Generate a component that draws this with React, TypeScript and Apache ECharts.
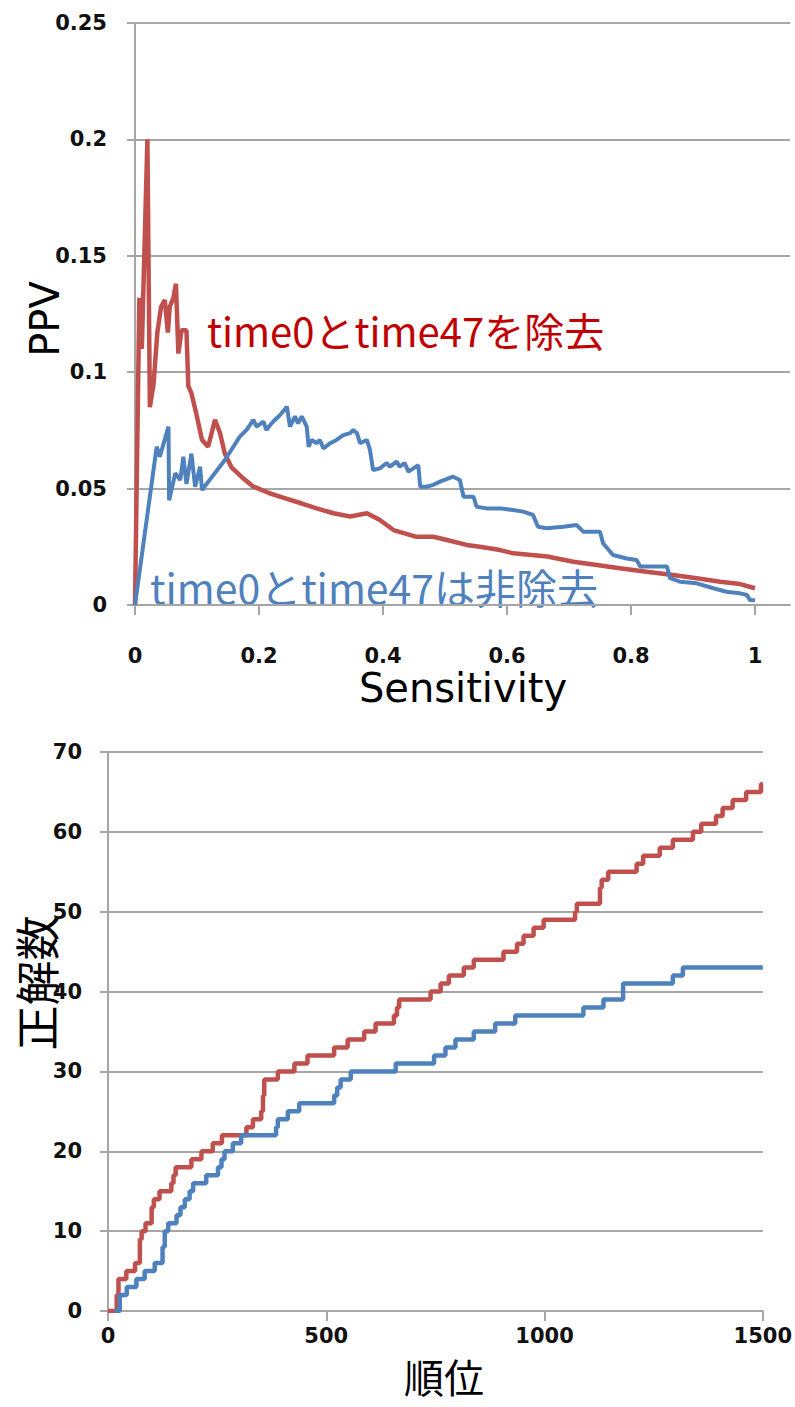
import React, { useEffect, useRef } from "react";
import * as echarts from "echarts";

// PPV vs. Sensitivity (top panel)
const redSens = [0, 0.007, 0.011, 0.020, 0.024, 0.030, 0.036, 0.042, 0.048, 0.053, 0.056, 0.062, 0.066, 0.070, 0.075, 0.083, 0.086, 0.091, 0.099, 0.108, 0.118, 0.129, 0.137, 0.145, 0.156, 0.172, 0.190, 0.217, 0.240, 0.268, 0.293, 0.320, 0.347, 0.374, 0.395, 0.417, 0.454, 0.481, 0.503, 0.535, 0.556, 0.589, 0.610, 0.665, 0.707, 0.745, 0.782, 0.825, 0.868, 0.906, 0.944, 0.976, 1.0];
const redPpv = [0, 0.132, 0.110, 0.200, 0.085, 0.095, 0.117, 0.128, 0.131, 0.117, 0.128, 0.132, 0.138, 0.108, 0.118, 0.118, 0.094, 0.091, 0.082, 0.071, 0.068, 0.0795, 0.074, 0.065, 0.059, 0.055, 0.051, 0.048, 0.046, 0.0437, 0.0415, 0.0394, 0.038, 0.0394, 0.0365, 0.0322, 0.0293, 0.0293, 0.0279, 0.0258, 0.025, 0.0236, 0.0222, 0.0208, 0.0186, 0.0172, 0.0158, 0.0143, 0.0129, 0.0115, 0.010, 0.009, 0.0072];

const blueSens = [0, 0.035, 0.040, 0.054, 0.055, 0.065, 0.073, 0.078, 0.083, 0.091, 0.097, 0.105, 0.108, 0.145, 0.169, 0.180, 0.191, 0.196, 0.207, 0.212, 0.218, 0.223, 0.234, 0.245, 0.250, 0.258, 0.263, 0.269, 0.277, 0.280, 0.285, 0.293, 0.298, 0.304, 0.315, 0.325, 0.336, 0.347, 0.352, 0.358, 0.363, 0.374, 0.379, 0.384, 0.395, 0.406, 0.411, 0.422, 0.427, 0.435, 0.441, 0.449, 0.457, 0.460, 0.470, 0.481, 0.492, 0.513, 0.524, 0.530, 0.546, 0.551, 0.567, 0.589, 0.610, 0.626, 0.642, 0.650, 0.664, 0.691, 0.712, 0.723, 0.750, 0.755, 0.771, 0.793, 0.809, 0.815, 0.858, 0.863, 0.879, 0.906, 0.933, 0.954, 0.976, 0.987, 0.992, 1.0];
const bluePpv = [0, 0.068, 0.0637, 0.0766, 0.045, 0.0566, 0.0537, 0.0637, 0.052, 0.065, 0.0508, 0.0594, 0.0494, 0.0623, 0.0723, 0.0752, 0.0795, 0.0766, 0.0788, 0.0752, 0.0773, 0.0788, 0.0816, 0.0852, 0.0766, 0.081, 0.078, 0.081, 0.0766, 0.068, 0.0709, 0.0695, 0.0709, 0.0673, 0.0695, 0.0709, 0.073, 0.0738, 0.0752, 0.0738, 0.0695, 0.0709, 0.0666, 0.058, 0.0587, 0.061, 0.0594, 0.0616, 0.0594, 0.061, 0.0573, 0.0587, 0.0601, 0.0508, 0.0508, 0.0516, 0.053, 0.0551, 0.0537, 0.0465, 0.0465, 0.0422, 0.0415, 0.0415, 0.0408, 0.0401, 0.0387, 0.0336, 0.033, 0.0336, 0.0344, 0.0315, 0.0315, 0.0265, 0.0215, 0.020, 0.0193, 0.0165, 0.0165, 0.0115, 0.010, 0.0093, 0.0072, 0.0057, 0.005, 0.0043, 0.0021, 0.002];

const sensTicks = [0, 0.2, 0.4, 0.6, 0.8, 1];

// Correct hits vs. rank (bottom panel): rank at which each new count is reached
const redRank = [0, 16, 20, 24, 42, 62, 73, 77, 86, 100, 105, 118, 145, 150, 155, 191, 214, 240, 261, 317, 332, 351, 355, 358, 389, 427, 457, 518, 549, 587, 613, 655, 662, 667, 739, 762, 781, 815, 838, 906, 937, 952, 975, 998, 1070, 1074, 1127, 1131, 1146, 1211, 1226, 1264, 1294, 1340, 1359, 1393, 1408, 1431, 1462, 1496, 1500];
const redHits = [0, 0, 2, 4, 5, 6, 9, 10, 11, 13, 14, 15, 16, 17, 18, 19, 20, 21, 22, 23, 24, 25, 27, 29, 30, 31, 32, 33, 34, 35, 36, 37, 38, 39, 40, 41, 42, 43, 44, 45, 46, 47, 48, 49, 50, 51, 53, 54, 55, 56, 57, 58, 59, 60, 61, 62, 63, 64, 65, 66, 66];

const blueRank = [15, 22, 27, 43, 65, 84, 107, 125, 130, 138, 157, 166, 176, 187, 195, 225, 252, 260, 267, 286, 305, 385, 389, 412, 438, 518, 525, 533, 556, 659, 747, 773, 796, 838, 887, 933, 1089, 1135, 1180, 1294, 1317, 1500];
const blueHits = [0, 0, 2, 3, 4, 5, 6, 8, 10, 11, 12, 13, 14, 15, 16, 17, 18, 19, 20, 21, 22, 23, 24, 25, 26, 27, 28, 29, 30, 31, 32, 33, 34, 35, 36, 37, 38, 39, 41, 42, 43, 43];

const RED = "#C0504D";
const BLUE = "#4F81BD";
const GRID = "#a6a6a6";
const TICK_FONT = "DejaVu Sans";
const JP_FONT = "Noto Sans CJK JP";

const zip = (xs: number[], ys: number[]) => xs.map((x, i) => [x, ys[i]]);

export default function App() {
  const ref = useRef<HTMLDivElement>(null);

  useEffect(() => {
    if (!ref.current) return;
    const chart = echarts.init(ref.current, undefined, { renderer: "svg" });

    const tickLabel = {
      fontSize: 21,
      fontWeight: "bold" as const,
      color: "#111",
      fontFamily: TICK_FONT,
    };
    const gridLine = { lineStyle: { color: GRID, width: 2 } };

    chart.setOption({
      animation: false,
      grid: [
        { left: 135, top: 23, width: 655, height: 582 },
        { left: 108, top: 752, width: 657, height: 559 },
      ],
      xAxis: [
        {
          gridIndex: 0,
          type: "value",
          min: 0,
          max: 1.0565,
          axisLine: gridLine,
          axisTick: { customValues: sensTicks, length: 10, lineStyle: { color: GRID, width: 2 } },
          axisLabel: { ...tickLabel, customValues: sensTicks, margin: 40 },
          splitLine: { show: false },
        },
        {
          gridIndex: 1,
          type: "value",
          min: 0,
          max: 1500,
          interval: 500,
          axisLine: gridLine,
          axisTick: { length: 10, lineStyle: { color: GRID, width: 2 } },
          axisLabel: { ...tickLabel, margin: 14, formatter: (v: number) => String(v) },
          splitLine: { show: false },
        },
      ],
      yAxis: [
        {
          gridIndex: 0,
          type: "value",
          min: 0,
          max: 0.25,
          interval: 0.05,
          axisLine: { show: true, lineStyle: { color: GRID, width: 2 } },
          axisTick: { show: true, length: 8, lineStyle: { color: GRID, width: 2 } },
          axisLabel: { ...tickLabel, margin: 28 },
          splitLine: gridLine,
        },
        {
          gridIndex: 1,
          type: "value",
          min: 0,
          max: 70,
          interval: 10,
          axisLine: { show: true, lineStyle: { color: GRID, width: 2 } },
          axisTick: { show: true, length: 8, lineStyle: { color: GRID, width: 2 } },
          axisLabel: { ...tickLabel, margin: 26 },
          splitLine: gridLine,
        },
      ],
      series: [
        {
          name: "time0とtime47を除去",
          type: "line",
          xAxisIndex: 0,
          yAxisIndex: 0,
          data: zip(redSens, redPpv),
          showSymbol: false,
          lineStyle: { color: RED, width: 4.5 },
          z: 2,
        },
        {
          name: "time0とtime47は非除去",
          type: "line",
          xAxisIndex: 0,
          yAxisIndex: 0,
          data: zip(blueSens, bluePpv),
          showSymbol: false,
          lineStyle: { color: BLUE, width: 4 },
          z: 3,
        },
        {
          name: "除去",
          type: "line",
          step: "end",
          xAxisIndex: 1,
          yAxisIndex: 1,
          data: zip(redRank, redHits),
          showSymbol: false,
          lineStyle: { color: RED, width: 4.5 },
          z: 2,
        },
        {
          name: "非除去",
          type: "line",
          step: "end",
          xAxisIndex: 1,
          yAxisIndex: 1,
          data: zip(blueRank, blueHits),
          showSymbol: false,
          lineStyle: { color: BLUE, width: 4.5 },
          z: 3,
        },
      ],
      graphic: [
        {
          type: "text",
          x: 45,
          y: 319,
          rotation: Math.PI / 2,
          style: { text: "PPV", fontSize: 40, fontFamily: TICK_FONT, fill: "#000", align: "center", verticalAlign: "middle" },
        },
        {
          type: "text",
          x: 463,
          y: 688,
          style: { text: "Sensitivity", fontSize: 40, fontFamily: TICK_FONT, fill: "#000", align: "center", verticalAlign: "middle" },
        },
        {
          type: "text",
          x: 207,
          y: 330,
          style: { text: "time0とtime47を除去", fontSize: 40, fontFamily: JP_FONT, fill: "#C00000", align: "left", verticalAlign: "middle" },
        },
        {
          type: "text",
          x: 150,
          y: 586,
          style: { text: "time0とtime47は非除去", fontSize: 41, fontFamily: JP_FONT, fill: BLUE, align: "left", verticalAlign: "middle" },
        },
        {
          type: "text",
          x: 35,
          y: 983,
          rotation: Math.PI / 2,
          style: { text: "正解数", fontSize: 45, fontFamily: JP_FONT, fill: "#000", align: "center", verticalAlign: "middle" },
        },
        {
          type: "text",
          x: 444,
          y: 1376,
          style: { text: "順位", fontSize: 40, fontFamily: JP_FONT, fill: "#000", align: "center", verticalAlign: "middle" },
        },
      ],
    });

    return () => chart.dispose();
  }, []);

  return (
    <div
      ref={ref}
      style={{ position: "absolute", left: 0, top: 0, width: 795, height: 1407, background: "#fff" }}
    />
  );
}
